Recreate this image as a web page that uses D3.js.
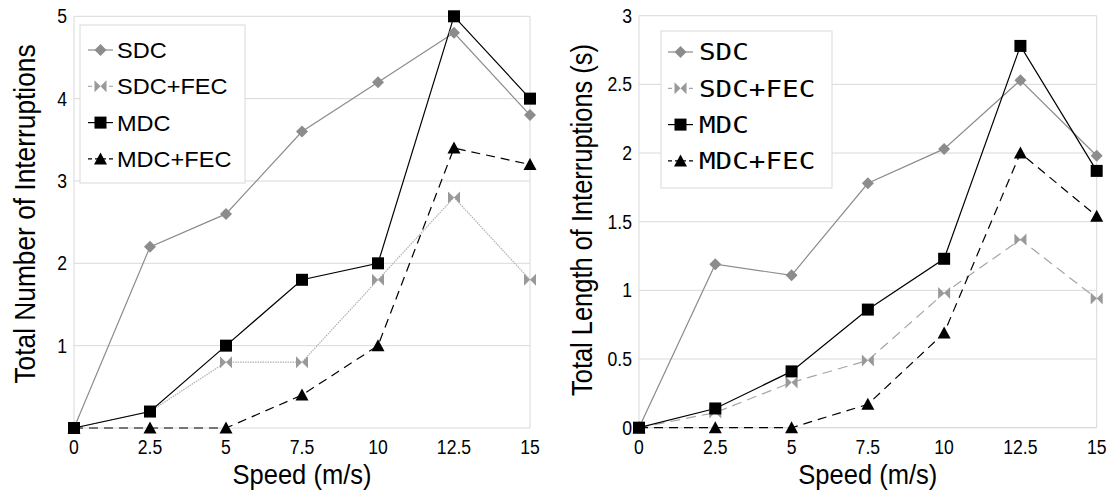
<!DOCTYPE html>
<html><head><meta charset="utf-8">
<script src="https://cdn.jsdelivr.net/npm/d3@7"></script>
<style>body{margin:0;background:#fff}svg{display:block}</style>
</head><body>
<svg id="c" width="1111" height="496"></svg>
<script>
const speeds = [0, 2.5, 5, 7.5, 10, 12.5, 15];
const xTicks = ["0", "2.5", "5", "7.5", "10", "12.5", "15"];
const seriesNames = ["SDC", "SDC+FEC", "MDC", "MDC+FEC"];
// Left chart: total number of interruptions
const numSDC = [0, 2.2, 2.6, 3.6, 4.2, 4.8, 3.8];
const numSDCFEC = [0, 0.2, 0.8, 0.8, 1.8, 2.8, 1.8];
const numMDC = [0, 0.2, 1, 1.8, 2, 5, 4];
const numMDCFEC = [0, 0, 0, 0.4, 1, 3.4, 3.2];
const leftYTicks = [1, 2, 3, 4, 5];
// Right chart: total length of interruptions (s)
const lenSDC = [0, 1.19, 1.11, 1.78, 2.03, 2.53, 1.98];
const lenSDCFEC = [0, 0.11, 0.33, 0.49, 0.98, 1.37, 0.94];
const lenMDC = [0, 0.14, 0.41, 0.86, 1.23, 2.78, 1.87];
const lenMDCFEC = [0, 0, 0, 0.17, 0.69, 2.0, 1.54];
const rightYTicks = [0, 0.5, 1, 1.5, 2, 2.5, 3];

const svg = d3.select("#c");
const SANS = "Liberation Sans, Arial, sans-serif";

function stretch(sel, f) {
  sel.each(function () {
    const w = this.getComputedTextLength();
    d3.select(this).attr("textLength", w * f).attr("lengthAdjust", "spacingAndGlyphs");
  });
}

function marker(g, type, x, y, color) {
  if (type === "diamond") {
    g.append("path").attr("d", `M${x},${y-6}L${x+6},${y}L${x},${y+6}L${x-6},${y}Z`).attr("fill", color);
  } else if (type === "bowtie") {
    g.append("path").attr("d", `M${x-6},${y-6}L${x},${y}L${x-6},${y+6}Z M${x+6},${y-6}L${x},${y}L${x+6},${y+6}Z`).attr("fill", color);
  } else if (type === "square") {
    g.append("rect").attr("x", x-6).attr("y", y-6).attr("width", 12).attr("height", 12).attr("fill", color);
  } else {
    g.append("path").attr("d", `M${x},${y-6.5}L${x+6.5},${y+5.5}L${x-6.5},${y+5.5}Z`).attr("fill", color);
  }
}

function chart(opt) {
  const g = svg.append("g");
  const x = d3.scaleLinear().domain([0, 15]).range([opt.x0, opt.x1]);
  const y = d3.scaleLinear().domain([0, opt.ymax]).range([opt.y0, opt.y1]);
  // gridlines
  g.selectAll(".gl").data(opt.yTicks).enter().append("line")
    .attr("x1", opt.x0).attr("x2", opt.x1)
    .attr("y1", d => y(d)).attr("y2", d => y(d))
    .attr("stroke", "#d9d9d9").attr("stroke-width", 1);
  g.append("line").attr("x1", opt.x0).attr("x2", opt.x1).attr("y1", y(0)).attr("y2", y(0)).attr("stroke", "#d9d9d9");
  [opt.x0, opt.x1].forEach(xx => g.append("line").attr("x1", xx).attr("x2", xx).attr("y1", y(0)).attr("y2", y(opt.ymax)).attr("stroke", "#d9d9d9"));
  // y tick labels
  g.selectAll(".yl").data(opt.yTicks).enter().append("text")
    .attr("x", opt.x0 - 7).attr("y", d => y(d)).attr("dy", "0.35em")
    .attr("text-anchor", "end").attr("font-family", SANS)
    .attr("font-size", 20).attr("fill", "#000").text(d => d).call(stretch, 0.88);
  // x tick labels
  g.selectAll(".xl").data(speeds).enter().append("text")
    .attr("x", d => x(d)).attr("y", opt.y0 + 26)
    .attr("text-anchor", "middle").attr("font-family", SANS)
    .attr("font-size", 20).attr("fill", "#000").text((d, i) => xTicks[i]).call(stretch, 0.88);
  // axis titles
  g.append("text").attr("x", (opt.x0 + opt.x1) / 2).attr("y", 484)
    .attr("text-anchor", "middle").attr("font-family", SANS)
    .attr("font-size", 28).text("Speed (m/s)")
    .attr("textLength", 139).attr("lengthAdjust", "spacingAndGlyphs");
  g.append("text").attr("transform", `translate(${opt.ytx},${opt.yty}) rotate(-90) scale(${opt.ytsx},1)`)
    .attr("text-anchor", "middle").attr("font-family", SANS)
    .attr("font-size", 30).text(opt.ytitle);

  const line = d3.line().x((d, i) => x(speeds[i])).y(d => y(d));
  opt.series.forEach(s => {
    g.append("path").datum(s.values).attr("d", line).attr("fill", "none")
      .attr("stroke", s.color).attr("stroke-width", s.width)
      .attr("stroke-dasharray", s.dash || null);
  });
  opt.series.forEach(s => {
    s.values.forEach((v, i) => marker(g, s.marker, x(speeds[i]), y(v), s.mcolor));
  });

  // legend
  const L = opt.legend;
  g.append("rect").attr("x", L.x).attr("y", L.y).attr("width", L.w).attr("height", L.h)
    .attr("fill", "#fff").attr("stroke", "#d9d9d9");
  opt.series.forEach((s, i) => {
    const cy = L.y + L.first + i * L.step;
    g.append("line").attr("x1", L.sx).attr("x2", L.sx + 25).attr("y1", cy).attr("y2", cy)
      .attr("stroke", s.color).attr("stroke-width", s.width).attr("stroke-dasharray", s.dash ? "4,3" : null);
    marker(g, s.marker, L.sx + 12.5, cy, s.mcolor);
    g.append("text").attr("x", L.tx).attr("y", cy).attr("dy", "0.36em")
      .attr("font-family", L.font).attr("font-size", L.fs).text(seriesNames[i]).call(stretch, L.stretch);
  });
}

chart({
  x0: 74, x1: 530, y0: 428, y1: 16.3, ymax: 5, yTicks: leftYTicks,
  ytitle: "Total Number of Interruptions", ytx: 35, yty: 214, ytsx: 0.877,
  series: [
    {values: numSDC, color: "#8c8c8c", width: 1.2, marker: "diamond", mcolor: "#8c8c8c"},
    {values: numSDCFEC, color: "#b0b0b0", width: 1.2, dash: "1.5,1", marker: "bowtie", mcolor: "#999"},
    {values: numMDC, color: "#000", width: 1.2, marker: "square", mcolor: "#000"},
    {values: numMDCFEC, color: "#000", width: 1.2, dash: "9,6", marker: "triangle", mcolor: "#000"}
  ],
  legend: {x: 80, y: 25, w: 165, h: 158, first: 25, step: 36.3, sx: 88, tx: 117,
    font: SANS, fs: 22, stretch: 1.07}
});

chart({
  x0: 639, x1: 1096.7, y0: 427.7, y1: 15.7, ymax: 3, yTicks: rightYTicks,
  ytitle: "Total Length of Interruptions (s)", ytx: 592, yty: 220, ytsx: 0.848,
  series: [
    {values: lenSDC, color: "#8c8c8c", width: 1.2, marker: "diamond", mcolor: "#8c8c8c"},
    {values: lenSDCFEC, color: "#a6a6a6", width: 1.2, dash: "10,6", marker: "bowtie", mcolor: "#999"},
    {values: lenMDC, color: "#000", width: 1.2, marker: "square", mcolor: "#000"},
    {values: lenMDCFEC, color: "#000", width: 1.2, dash: "9,6", marker: "triangle", mcolor: "#000"}
  ],
  legend: {x: 661, y: 31, w: 171, h: 157, first: 21, step: 36.3, sx: 668, tx: 699,
    font: "DejaVu Sans Mono, monospace", fs: 23, stretch: 1.2}
});
</script>
</body></html>
